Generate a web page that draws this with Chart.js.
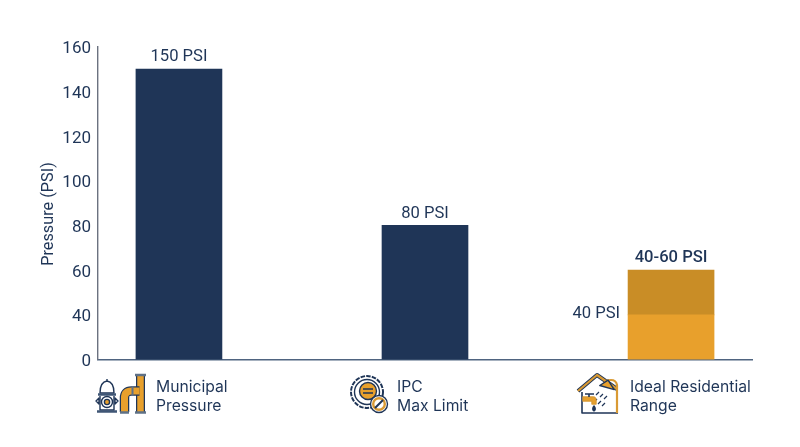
<!DOCTYPE html>
<html>
<head>
<meta charset="utf-8">
<script src="https://cdn.jsdelivr.net/npm/chart.js@4/dist/chart.umd.min.js"></script>
<style>
html, body { margin: 0; padding: 0; background: #fff; }
#wrap { position: relative; width: 800px; height: 447px; overflow: hidden; }
#chart { position: absolute; left: 0; top: 0; }
#icons { position: absolute; left: 0; top: 0; pointer-events: none; }
</style>
</head>
<body>
<div id="wrap">
<canvas id="chart" width="800" height="447"></canvas>
<svg id="icons" width="800" height="447" fill="none" stroke="#1f3557" stroke-width="1.4" stroke-linejoin="round">
    <!-- hydrant -->
    <path d="M107 379v2M100 393q0-11 7-12q7 1 7 12z" fill="#fff"/>
    <path d="M100 396v14h14v-14" fill="#fff"/>
    <path d="M98 394.500h18M97 411.500h20" stroke-width="2.4" stroke="#3f5675"/>
    <path d="M96 401l3-3v6zM118 401l-3-3v6z" stroke-width="1.4"/>
    <circle cx="107" cy="402" r="5.500"/><circle cx="107" cy="402" r="2.600" fill="#e8a02c"/>
    <!-- pipes -->
    <path d="M140.500 376v36" stroke="#1f3557" stroke-width="9"/>
    <path d="M140.500 376v36" stroke="#e8a02c" stroke-width="6.500"/>
    <path d="M124.500 412v-14q0-7 7-7h8" stroke="#1f3557" stroke-width="9.500"/>
    <path d="M124.500 412v-14q0-7 7-7h8" stroke="#e8a02c" stroke-width="7"/>
    <path d="M135 375h11M135 412.500h11M120 412.500h9" stroke="#5f7186" stroke-width="2.600"/>
    <path d="M132.500 386v10" stroke="#5f7186" stroke-width="2"/>
    <!-- gear badge -->
    <circle cx="367" cy="392" r="16" stroke-dasharray="4.500 1.200" stroke-width="2"/>
    <circle cx="367" cy="392" r="12.500"/>
    <circle cx="368" cy="391" r="8.500" fill="#e8a02c"/>
    <path d="M363 389h10M363 393h10"/>
    <circle cx="379" cy="404" r="8.500" fill="#fff" stroke="#1f3557" stroke-width="1.400"/>
    <circle cx="379" cy="404" r="5.800" stroke="#d99a34" stroke-width="2.400"/>
    <path d="M375 408l8-8" stroke="#1f3557" stroke-width="2"/>
    <!-- house -->
    <path d="M578 391l19-16l20 14" stroke="#1f3557" stroke-width="4"/>
    <path d="M578 391l19-16l20 14" stroke="#d99a34" stroke-width="2.200"/>
    <path d="M582 392v21h36" stroke-width="1.600"/>
    <path d="M617 413v-28q-1-5-6-5q-5 0-7 3" stroke="#d99a34" stroke-width="2.200"/>
    <path d="M600 387l7-7l8 8z" transform="rotate(12 607 385)" fill="#e8a02c"/>
    <path d="M599 392l-3 3M603 394l-3 3M607 396l-3 3M597 399l-3 3M601 401l-3 3M605 403l-3 3" stroke-width="1.200"/>
    <path d="M583 397h10q3 0 3 4v3h-4v-3h-9z" fill="#e8a02c" stroke="#d99a34"/>
    <path d="M585 394h9M589 394v3" stroke-width="1.600"/>
    <path d="M594 406q-2.500 3.500 0 5q2.500-1.500 0-5z" fill="#1f3557"/>
</svg>
</div>
<script>
const categories = [["Municipal", "Pressure"], ["IPC", "Max Limit"], ["Ideal Residential", "Range"]];
const baseValues = [150, 80, 40];
const rangeValues = [null, null, 20];
const barLabels = ["150 PSI", "80 PSI", "40-60 PSI"];
const insideLabel = "40 PSI";
const yTitle = "Pressure (PSI)";
// the reference axis skips 20: the bottom step goes straight from 40 to 0
const yTicks = [20, 40, 60, 80, 100, 120, 140, 160];
const yTickLabels = ["0", "40", "60", "80", "100", "120", "140", "160"];

const navy = "#1f3557";
const amber = "#e8a02c";
const darkAmber = "#c98d26";
const labelX = [156, 397, 630];

// value labels, axis title and the category text under the axis
const labelPlugin = {
    id: "labelPlugin",
    afterDatasetsDraw(chart) {
        const ctx = chart.ctx;
        const x = chart.scales.x;
        const y = chart.scales.y;
        ctx.save();
        ctx.fillStyle = navy;
        ctx.textBaseline = "middle";

        ctx.textAlign = "center";
        barLabels.forEach((text, i) => {
            ctx.font = i === 2 ? "500 16.6px Roboto" : "400 16.6px Roboto";
            ctx.fillText(text, x.getPixelForValue(i), y.getPixelForValue(baseValues[i] + rangeValues[i]) - 12);
        });

        ctx.textAlign = "right";
        ctx.font = "400 16.6px Roboto";
        ctx.fillText(insideLabel, x.getPixelForValue(2) - 51, y.getPixelForValue(baseValues[2]) - 1);

        ctx.textAlign = "left";
        ctx.font = "400 15.7px Inter";
        categories.forEach((lines, i) => {
            lines.forEach((line, j) => {
                ctx.fillText(line, labelX[i], 387 + j * 19.5);
            });
        });

        ctx.translate(49, 214);
        ctx.rotate(-Math.PI / 2);
        ctx.textAlign = "center";
        ctx.font = "400 16.3px Roboto";
        ctx.fillText(yTitle, 0, 0);
        ctx.restore();
    }
};

new Chart("chart", {
    type: "bar",
    data: {
        datasets: [
            {
                data: baseValues.map((v, i) => ({ x: i, y: v })),
                backgroundColor: [navy, navy, amber],
                barThickness: 86,
                stack: "a"
            },
            {
                data: rangeValues.map((v, i) => ({ x: i, y: v })),
                backgroundColor: darkAmber,
                barThickness: 86,
                stack: "a"
            }
        ]
    },
    options: {
        responsive: false,
        animation: false,
        layout: { padding: { top: 46.7, right: 48 } },
        plugins: { legend: { display: false }, tooltip: { enabled: false } },
        scales: {
            x: {
                type: "linear",
                bounds: "data",
                offset: false,
                stacked: true,
                min: -0.329,
                max: 2.329,
                grid: { display: false, drawTicks: false },
                border: { color: "#4f6480", width: 1.4 },
                ticks: { display: false },
                afterFit(scale) { scale.height = 87.5; }
            },
            y: {
                stacked: true,
                min: 20,
                max: 160,
                afterBuildTicks(scale) { scale.ticks = yTicks.map(v => ({ value: v })); },
                grid: { display: false, drawTicks: false },
                border: { color: "#6b7280", width: 1.4 },
                ticks: {
                    color: navy,
                    padding: 7,
                    labelOffset: 2.4,
                    font: { family: "Roboto", size: 17 },
                    callback: value => yTickLabels[yTicks.indexOf(value)]
                },
                afterFit(scale) { scale.width = 98; }
            }
        }
    },
    plugins: [labelPlugin]
});
</script>
</body>
</html>
